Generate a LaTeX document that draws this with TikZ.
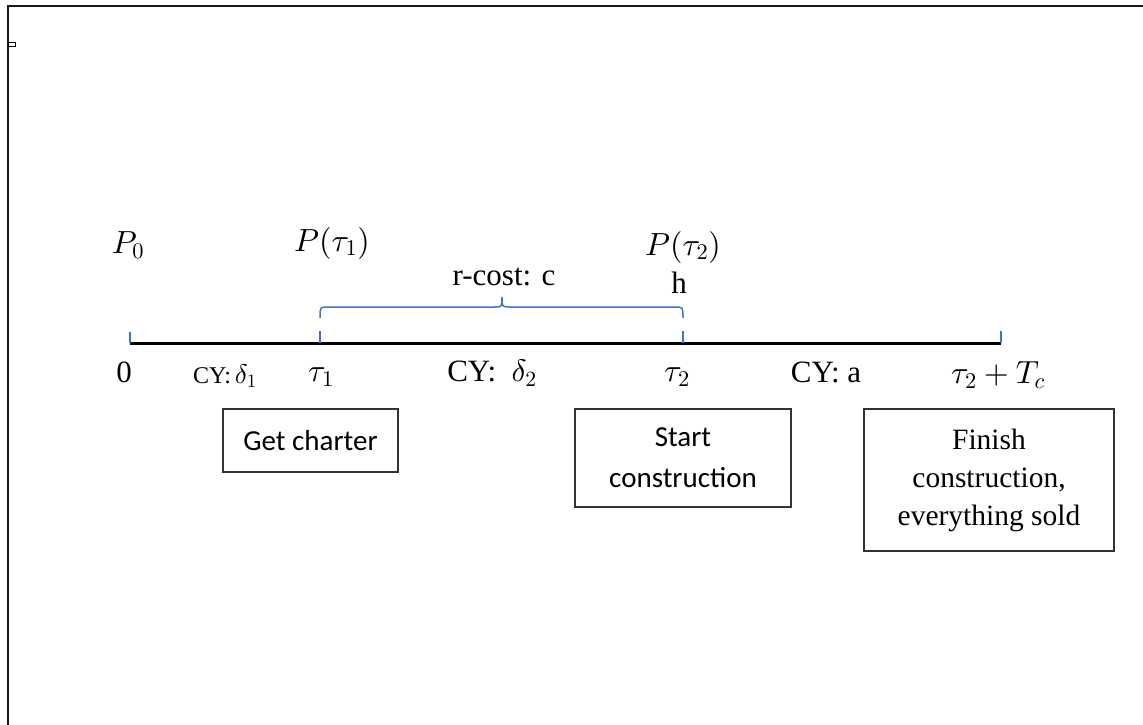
\documentclass[tikz,border=0pt]{standalone}
\usepackage{fontspec}
\setmainfont{Liberation Serif}
\newfontfamily\calibrifont{Carlito}
\DeclareFontFamily{OML}{cmm}{\skewchar\font'177}
\DeclareFontShape{OML}{cmm}{m}{it}{<->cmmi10}{}
\DeclareFontShape{OT1}{cmr}{m}{n}{<->cmr10}{}
\DeclareFontShape{OMS}{cmsy}{m}{n}{<->cmsy10}{}
\DeclareFontFamily{OMX}{cmex}{}
\DeclareFontShape{OMX}{cmex}{m}{n}{<->cmex10}{}
\definecolor{tickblue}{RGB}{68,114,196}
\tikzset{
  lbl/.style={inner sep=0pt, font=\fontsize{31}{34}\selectfont},
  mlbl/.style={inner sep=0pt, font=\fontsize{32}{36}\selectfont},
  small/.style={inner sep=0pt, font=\fontsize{24}{28}\selectfont},
  evbox/.style={draw=black!80, line width=1.2pt, align=center, inner sep=0pt},
  bluetick/.style={draw=tickblue, line width=1.6pt},
}
\begin{document}
\begin{tikzpicture}[x=1pt,y=-1pt]
\useasboundingbox (0,0) rectangle (1143,725);
% frame
\coordinate (ftl) at (8,6);
\coordinate (ftr) at (1143,6);
\coordinate (fbl) at (8,725);
\draw[line width=2.5pt, black!90] (ftr) -- (ftl) -- (fbl);
\draw[line width=1pt] (8,43) rectangle (15,47);
% timeline
\coordinate (t0) at (130,343);
\coordinate (t1) at (320,343);
\coordinate (t2) at (683,343);
\coordinate (t3) at (1001,343);
\draw[line width=3pt] (t0) -- (t3);
\draw[bluetick] (t0) -- ++(0,-11);
\draw[bluetick] (t1) -- ++(0,-12);
\draw[bluetick] (t2) -- ++(0,-12);
\draw[bluetick] (t3) -- ++(0,-12);
% brace
\coordinate (bl) at (320,318);
\coordinate (bm) at (502,297);
\coordinate (br) at (683,318);
\draw[bluetick, line width=1.5pt] (bl) .. controls (320,307) .. (328,307) -- (494,307) .. controls (502,307) .. (bm) .. controls (502,307) .. (510,307) -- (675,307) .. controls (683,307) .. (br);
% labels above
\node[mlbl] (p0) at (128,245) {$P_0$};
\node[mlbl] (pt1) at (332,243) {$P(\tau_1)$};
\node[mlbl] (pt2) at (683,247) {$P(\tau_2)$};
\node[lbl] (h) at (679,283) {h};
\node[lbl] (rc) at (504,277) {r-cost: c};
% labels below
\node[lbl] (l0) at (124,372) {0};
\node[small] (cy1) at (225,376) {CY:\,{\fontsize{27}{30}\selectfont$\delta_1$}};
\node[mlbl] (lt1) at (321,377) {$\tau_1$};
\node[lbl] (cy2) at (492,373) {CY:\ \ $\delta_2$};
\node[mlbl] (lt2) at (677,377) {$\tau_2$};
\node[lbl] (cya) at (826,372) {CY: a};
\node[mlbl] (lt3) at (998,375) {$\tau_2+T_c$};
% boxes
\node[evbox, minimum width=175pt, minimum height=63pt, font=\calibrifont\fontsize{29}{36}\selectfont] (b1) at (310.5,440.5) {Get charter};
\node[evbox, minimum width=216pt, minimum height=98pt, font=\calibrifont\fontsize{29}{41}\selectfont] (b2) at (683,458) {Start\\construction};
\node[evbox, minimum width=250pt, minimum height=142pt, font=\fontsize{29.5}{38}\selectfont] (b3) at (989,480) {Finish\\construction,\\everything sold};
\end{tikzpicture}
\end{document}
